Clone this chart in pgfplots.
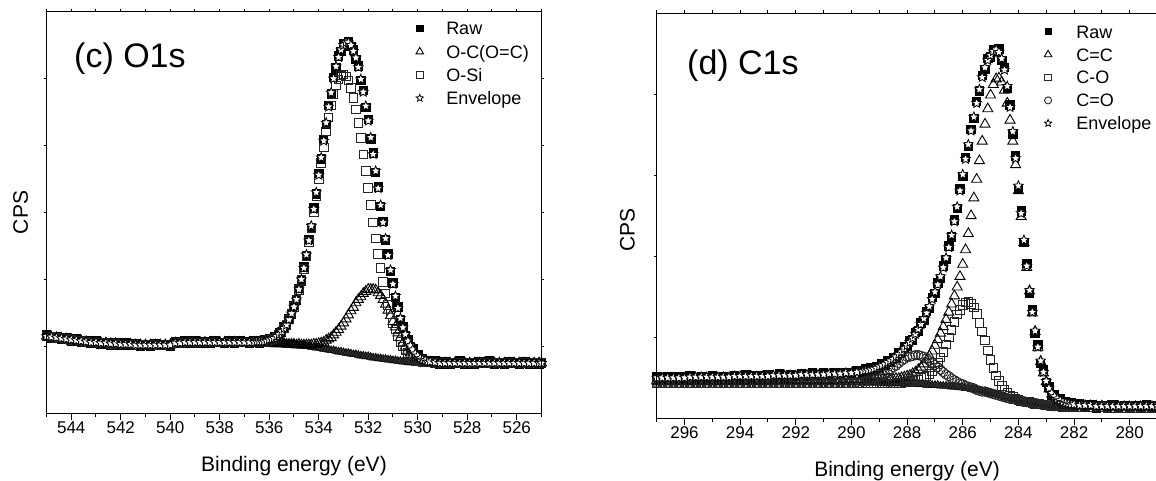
\documentclass[border=0pt]{standalone}
\usepackage{fontspec}
\setmainfont{Liberation Sans}
\usepackage{pgfplots}
\usepackage{pgfplotstable}
\pgfplotsset{compat=1.18}

% open five-pointed star
\pgfdeclareplotmark{ostar}{%
  \pgfpathmoveto{\pgfpointpolar{90}{1.1\pgfplotmarksize}}%
  \pgfpathlineto{\pgfpointpolar{126}{0.5\pgfplotmarksize}}%
  \pgfpathlineto{\pgfpointpolar{162}{1.1\pgfplotmarksize}}%
  \pgfpathlineto{\pgfpointpolar{198}{0.5\pgfplotmarksize}}%
  \pgfpathlineto{\pgfpointpolar{234}{1.1\pgfplotmarksize}}%
  \pgfpathlineto{\pgfpointpolar{270}{0.5\pgfplotmarksize}}%
  \pgfpathlineto{\pgfpointpolar{306}{1.1\pgfplotmarksize}}%
  \pgfpathlineto{\pgfpointpolar{342}{0.5\pgfplotmarksize}}%
  \pgfpathlineto{\pgfpointpolar{18}{1.1\pgfplotmarksize}}%
  \pgfpathlineto{\pgfpointpolar{54}{0.5\pgfplotmarksize}}%
  \pgfpathclose
  \pgfusepathqfillstroke}

% O1s: binding energy, raw, O-C(O=C), O-Si, envelope, background
\pgfplotstableread{
x raw oc osi env bg
545.0 1.17 1.15 1.15 1.15 1.15
544.8 1.12 1.14 1.14 1.14 1.14
544.6 1.15 1.13 1.13 1.13 1.13
544.4 1.10 1.12 1.12 1.12 1.12
544.2 1.13 1.11 1.11 1.11 1.11
544.0 1.08 1.10 1.10 1.10 1.10
543.8 1.11 1.09 1.09 1.09 1.09
543.6 1.06 1.08 1.08 1.08 1.08
543.4 1.09 1.07 1.07 1.07 1.07
543.2 1.05 1.06 1.06 1.06 1.06
543.0 1.08 1.06 1.06 1.06 1.06
542.8 1.03 1.05 1.05 1.05 1.05
542.6 1.06 1.05 1.05 1.05 1.05
542.4 1.02 1.04 1.04 1.04 1.04
542.2 1.06 1.04 1.04 1.04 1.04
542.0 1.01 1.03 1.03 1.03 1.03
541.8 1.05 1.03 1.03 1.03 1.03
541.6 1.01 1.03 1.03 1.03 1.03
541.4 1.04 1.02 1.02 1.02 1.02
541.2 1.00 1.02 1.02 1.02 1.02
541.0 1.03 1.02 1.02 1.02 1.02
540.8 1.00 1.02 1.02 1.02 1.02
540.6 1.04 1.02 1.02 1.02 1.02
540.4 1.01 1.02 1.02 1.02 1.02
540.2 1.03 1.02 1.02 1.02 1.02
540.0 1.00 1.02 1.02 1.02 1.02
539.8 1.07 1.05 1.05 1.05 1.05
539.6 1.04 1.05 1.05 1.05 1.05
539.4 1.08 1.06 1.06 1.06 1.06
539.2 1.05 1.06 1.06 1.06 1.06
539.0 1.08 1.06 1.06 1.06 1.06
538.8 1.04 1.06 1.06 1.06 1.06
538.6 1.07 1.06 1.06 1.06 1.06
538.4 1.05 1.06 1.06 1.06 1.06
538.2 1.08 1.06 1.06 1.06 1.06
538.0 1.06 1.06 1.06 1.06 1.06
537.8 1.04 1.06 1.06 1.06 1.06
537.6 1.08 1.06 1.06 1.06 1.06
537.4 1.05 1.06 1.06 1.06 1.06
537.2 1.08 1.06 1.06 1.06 1.06
537.0 1.07 1.06 1.06 1.06 1.06
536.8 1.05 1.06 1.06 1.06 1.06
536.6 1.08 1.06 1.06 1.06 1.06
536.5 1.09 1.06 1.07 1.07 1.06
536.4 1.05 1.06 1.07 1.07 1.06
536.3 1.08 1.05 1.07 1.07 1.05
536.2 1.10 1.05 1.07 1.07 1.05
536.1 1.07 1.05 1.08 1.08 1.05
536.0 1.12 1.05 1.10 1.10 1.05
535.9 1.10 1.05 1.11 1.11 1.05
535.8 1.15 1.04 1.12 1.12 1.04
535.7 1.14 1.04 1.15 1.15 1.04
535.6 1.20 1.04 1.18 1.18 1.04
535.5 1.21 1.04 1.22 1.22 1.04
535.4 1.29 1.04 1.27 1.27 1.04
535.3 1.31 1.03 1.32 1.32 1.03
535.2 1.42 1.03 1.40 1.40 1.03
535.1 1.48 1.03 1.49 1.49 1.03
535.0 1.61 1.03 1.59 1.59 1.03
534.9 1.69 1.02 1.70 1.70 1.02
534.8 1.87 1.03 1.84 1.85 1.02
534.7 1.98 1.02 1.99 2.00 1.01
534.6 2.19 1.02 2.16 2.17 1.01
534.5 2.36 1.02 2.35 2.37 1.00
534.4 2.60 1.02 2.56 2.58 1.00
534.3 2.78 1.02 2.77 2.80 0.99
534.2 3.07 1.03 3.01 3.05 0.99
534.1 3.28 1.03 3.25 3.30 0.98
534.0 3.58 1.04 3.50 3.56 0.98
533.9 3.80 1.05 3.74 3.82 0.97
533.8 4.09 1.06 3.97 4.07 0.96
533.7 4.32 1.09 4.21 4.34 0.96
533.6 4.60 1.11 4.42 4.58 0.95
533.5 4.77 1.13 4.60 4.79 0.94
533.4 5.02 1.17 4.77 5.00 0.94
533.3 5.16 1.21 4.90 5.18 0.93
533.2 5.34 1.25 4.99 5.32 0.92
533.1 5.41 1.30 5.05 5.43 0.92
533.0 5.52 1.35 5.06 5.50 0.91
532.9 5.53 1.41 5.03 5.54 0.90
532.8 5.56 1.47 4.97 5.54 0.90
532.7 5.48 1.53 4.86 5.50 0.89
532.6 5.43 1.58 4.71 5.41 0.88
532.5 5.29 1.65 4.54 5.31 0.88
532.4 5.19 1.70 4.34 5.17 0.87
532.3 4.97 1.74 4.11 4.99 0.86
532.2 4.82 1.79 3.87 4.80 0.86
532.1 4.57 1.82 3.62 4.59 0.85
532.0 4.39 1.85 3.37 4.37 0.85
531.9 4.10 1.85 3.11 4.12 0.84
531.8 3.89 1.85 2.85 3.87 0.83
531.7 3.60 1.84 2.61 3.62 0.83
531.6 3.38 1.80 2.38 3.36 0.82
531.5 3.09 1.76 2.17 3.11 0.82
531.4 2.87 1.70 1.96 2.85 0.81
531.3 2.59 1.63 1.79 2.61 0.81
531.2 2.38 1.54 1.62 2.36 0.80
531.1 2.12 1.46 1.48 2.14 0.80
531.0 1.95 1.37 1.35 1.93 0.79
530.9 1.73 1.29 1.25 1.75 0.79
530.8 1.59 1.20 1.15 1.57 0.78
530.7 1.40 1.13 1.07 1.42 0.78
530.6 1.30 1.05 1.00 1.28 0.77
530.5 1.16 1.00 0.95 1.18 0.77
530.4 1.10 0.94 0.90 1.08 0.76
530.3 0.99 0.90 0.87 1.01 0.76
530.2 0.97 0.87 0.84 0.95 0.76
530.1 0.87 0.83 0.81 0.89 0.75
530.0 0.88 0.81 0.80 0.86 0.75
529.9 0.80 0.79 0.78 0.82 0.75
529.8 0.82 0.78 0.77 0.80 0.75
529.7 0.78 0.77 0.77 0.79 0.75
529.6 0.79 0.76 0.76 0.77 0.75
529.5 0.76 0.76 0.76 0.77 0.75
529.3 0.78 0.75 0.75 0.76 0.75
529.1 0.74 0.75 0.75 0.75 0.75
528.9 0.77 0.75 0.75 0.75 0.75
528.7 0.73 0.75 0.75 0.75 0.75
528.5 0.76 0.75 0.75 0.75 0.75
528.3 0.78 0.75 0.75 0.75 0.75
528.1 0.74 0.75 0.75 0.75 0.75
527.9 0.76 0.75 0.75 0.75 0.75
527.7 0.73 0.75 0.75 0.75 0.75
527.5 0.77 0.75 0.75 0.75 0.75
527.3 0.75 0.75 0.75 0.75 0.75
527.1 0.78 0.75 0.75 0.75 0.75
526.9 0.74 0.75 0.75 0.75 0.75
526.7 0.76 0.75 0.75 0.75 0.75
526.5 0.73 0.75 0.75 0.75 0.75
526.3 0.77 0.75 0.75 0.75 0.75
526.1 0.75 0.75 0.75 0.75 0.75
525.9 0.74 0.75 0.75 0.75 0.75
525.7 0.77 0.75 0.75 0.75 0.75
525.5 0.73 0.75 0.75 0.75 0.75
525.3 0.76 0.75 0.75 0.75 0.75
525.1 0.74 0.75 0.75 0.75 0.75
525.0 0.75 0.75 0.75 0.75 0.75
}\tabc

% C1s: binding energy, raw, C=C, C-O, C=O, envelope, background
\pgfplotstableread{
x raw cc co cdo env bg
297.0 .52 .46 .44 .44 .50 .44
296.8 .48 .46 .44 .44 .50 .44
296.6 .51 .46 .44 .44 .50 .44
296.4 .49 .46 .44 .44 .50 .44
296.2 .52 .46 .44 .44 .50 .44
296.0 .48 .46 .44 .44 .50 .44
295.8 .53 .46 .44 .44 .51 .44
295.6 .49 .46 .44 .44 .51 .44
295.4 .52 .46 .44 .44 .51 .44
295.2 .50 .46 .44 .44 .51 .44
295.0 .53 .46 .44 .44 .51 .44
294.8 .49 .46 .44 .44 .51 .44
294.6 .52 .46 .44 .44 .51 .44
294.4 .50 .46 .44 .44 .51 .44
294.2 .53 .46 .44 .44 .52 .44
294.0 .50 .46 .44 .44 .52 .44
293.8 .54 .46 .44 .44 .52 .44
293.6 .50 .46 .44 .44 .52 .44
293.4 .53 .46 .44 .44 .52 .44
293.2 .51 .46 .44 .44 .52 .44
293.0 .54 .46 .44 .44 .52 .44
292.8 .51 .47 .44 .44 .53 .44
292.6 .55 .47 .44 .44 .53 .44
292.4 .51 .47 .44 .44 .53 .44
292.2 .54 .47 .44 .44 .53 .44
292.0 .52 .47 .44 .44 .53 .44
291.8 .55 .47 .44 .44 .54 .44
291.6 .52 .47 .44 .44 .54 .44
291.4 .56 .47 .44 .44 .54 .44
291.2 .53 .47 .44 .44 .54 .44
291.0 .56 .47 .44 .44 .54 .44
290.8 .53 .47 .44 .44 .55 .44
290.6 .57 .47 .44 .44 .55 .44
290.4 .54 .48 .44 .44 .55 .44
290.2 .57 .48 .44 .44 .56 .44
290.0 .55 .48 .44 .44 .56 .44
289.8 .59 .48 .44 .45 .57 .44
289.6 .56 .48 .44 .45 .58 .44
289.5 .61 .48 .44 .46 .59 .44
289.4 .57 .48 .44 .47 .59 .44
289.3 .62 .48 .44 .48 .60 .44
289.2 .60 .48 .44 .49 .61 .44
289.1 .64 .48 .44 .50 .62 .44
289.0 .62 .48 .44 .52 .64 .44
288.9 .67 .48 .44 .54 .65 .44
288.8 .65 .48 .43 .55 .67 .43
288.7 .71 .48 .43 .57 .69 .43
288.6 .69 .48 .43 .60 .71 .43
288.5 .75 .48 .43 .63 .73 .43
288.4 .74 .49 .43 .65 .76 .43
288.3 .81 .49 .44 .68 .79 .43
288.2 .80 .50 .44 .71 .82 .43
288.1 .88 .51 .45 .73 .86 .43
288.0 .89 .52 .45 .76 .90 .43
287.9 .96 .53 .45 .76 .94 .42
287.8 .97 .55 .46 .77 .99 .42
287.7 1.06 .57 .47 .78 1.04 .42
287.6 1.08 .60 .48 .78 1.10 .42
287.5 1.18 .63 .50 .77 1.16 .42
287.4 1.21 .67 .51 .76 1.23 .42
287.3 1.32 .72 .52 .74 1.30 .41
287.2 1.36 .77 .55 .71 1.38 .41
287.1 1.49 .83 .58 .69 1.47 .41
287.0 1.54 .90 .63 .66 1.56 .41
286.9 1.67 .97 .69 .63 1.65 .41
286.8 1.73 1.05 .75 .60 1.75 .40
286.7 1.88 1.13 .82 .57 1.86 .40
286.6 1.96 1.22 .91 .54 1.98 .40
286.5 2.13 1.31 1.00 .52 2.11 .40
286.4 2.24 1.41 1.09 .49 2.26 .39
286.3 2.45 1.51 1.19 .47 2.43 .39
286.2 2.59 1.62 1.28 .45 2.61 .39
286.1 2.83 1.75 1.34 .43 2.81 .38
286.0 2.99 1.90 1.40 .42 3.01 .38
285.9 3.22 2.08 1.43 .40 3.20 .37
285.8 3.36 2.28 1.44 .39 3.38 .37
285.7 3.57 2.50 1.41 .38 3.55 .36
285.6 3.70 2.72 1.37 .37 3.72 .36
285.5 3.91 2.95 1.29 .35 3.89 .35
285.4 4.04 3.18 1.18 .34 4.06 .34
285.3 4.23 3.42 1.07 .33 4.21 .33
285.2 4.31 3.63 .96 .33 4.33 .33
285.1 4.44 3.82 .84 .32 4.42 .32
285.0 4.46 3.99 .72 .31 4.48 .31
284.9 4.55 4.12 .62 .30 4.53 .30
284.8 4.53 4.19 .53 .29 4.55 .29
284.7 4.56 4.20 .46 .28 4.52 .28
284.6 4.42 4.15 .40 .27 4.44 .27
284.5 4.33 4.05 .35 .26 4.30 .26
284.4 4.07 3.89 .31 .25 4.10 .25
284.3 3.87 3.68 .28 .24 3.84 .24
284.2 3.51 3.42 .26 .24 3.54 .24
284.1 3.24 3.13 .24 .23 3.21 .23
284.0 2.84 2.81 .23 .22 2.87 .22
283.9 2.56 2.49 .21 .21 2.53 .21
283.8 2.17 2.17 .21 .21 2.20 .21
283.7 1.91 1.86 .20 .20 1.88 .20
283.6 1.55 1.57 .20 .20 1.58 .20
283.5 1.34 1.30 .19 .19 1.31 .19
283.4 1.05 1.07 .18 .18 1.08 .18
283.3 .91 .87 .18 .18 .88 .18
283.2 .68 .70 .17 .17 .71 .17
283.1 .60 .56 .17 .17 .57 .17
283.0 .44 .45 .16 .16 .46 .16
282.9 .39 .36 .16 .16 .37 .16
282.8 .29 .30 .15 .15 .31 .15
282.7 .29 .26 .15 .15 .27 .15
282.6 .22 .23 .15 .15 .24 .15
282.5 .24 .21 .15 .15 .22 .15
282.4 .18 .19 .14 .14 .20 .14
282.3 .21 .18 .14 .14 .19 .14
282.2 .17 .17 .14 .14 .18 .14
282.1 .19 .16 .14 .14 .17 .14
282.0 .15 .16 .14 .14 .17 .14
281.8 .18 .15 .14 .14 .16 .14
281.6 .14 .15 .14 .14 .16 .14
281.4 .17 .15 .14 .14 .16 .14
281.2 .13 .15 .14 .14 .15 .14
281.0 .16 .15 .14 .14 .15 .14
280.8 .13 .14 .13 .13 .15 .13
280.6 .17 .14 .13 .13 .15 .13
280.4 .14 .14 .13 .13 .15 .13
280.2 .16 .14 .13 .13 .15 .13
280.0 .13 .14 .13 .13 .15 .13
279.8 .16 .14 .13 .13 .15 .13
279.6 .14 .14 .13 .13 .15 .13
279.4 .17 .14 .13 .13 .15 .13
279.2 .13 .14 .13 .13 .15 .13
279.0 .16 .14 .13 .13 .15 .13
}\tabd

\pgfplotsset{
  xps/.style={
    scale only axis, x dir=reverse,
    xlabel={Binding energy (eV)}, ylabel={CPS},
    tick align=outside, xtick pos=left, ytick=\empty,
    major tick length=6.5pt, minor tick length=3.3pt,
    axis line style={line width=1pt}, tick style={line width=1pt, black},
    /pgf/number format/assume math mode=true,
    tick label style={font=\fontsize{17}{17}\selectfont},
    xticklabel shift=-1.5pt,
    label style={font=\fontsize{21}{21}\selectfont},
    xlabel style={at={(axis description cs:0.5,0)}, anchor=base, yshift=-58.4pt},
    legend style={draw=none, fill=none, inner sep=0pt, outer sep=0pt,
      anchor=north west, font=\fontsize{18}{18}\selectfont,
      nodes={inner sep=0pt, text height=12.9pt, text depth=0pt}},
    legend cell align=left,
    legend image code/.code={\draw[##1,/tikz/every mark/.append style={scale=0.75}] plot coordinates {(0pt,0pt)};},
  },
  frame/.style={
    scale only axis, x dir=reverse, tick align=outside,
    xtick pos=right, xticklabels={}, ytick pos=both, yticklabels={},
    major tick length=2.8pt,
    axis line style={line width=1pt}, tick style={line width=1pt, black},
  },
  bgp/.style={only marks, mark=triangle*, mark size=4.6pt, black, line width=0.6pt, mark options={fill=black!80}, forget plot},
  rawp/.style={only marks, mark=square*, mark size=4.2pt, black, line width=0.8pt},
  trip/.style={only marks, mark=triangle, mark size=5.8pt, black, line width=0.9pt},
  sqp/.style={only marks, mark=square, mark size=4.3pt, black!85, line width=0.9pt},
  cirp/.style={only marks, mark=o, mark size=4.7pt, black!85, line width=0.9pt},
  envp/.style={only marks, mark=ostar, mark size=4.6pt, black, line width=0.8pt, mark options={fill=white}},
}

\begin{document}
\begin{tikzpicture}
% ---- (c) O1s ----
\begin{axis}[xps,
  at={(46.5pt,67.7pt)}, anchor=south west, width=495pt, height=401.6pt,
  xmin=525, xmax=545, ymin=0, ymax=6,
  xtick={526,528,...,544}, minor xtick={525,527,...,545},
  ylabel style={at={(axis description cs:-0.052,0.5)}, anchor=center},
  legend style={at={(axis description cs:0.7465,0.9742)}, row sep=10.3pt, column sep=22.7pt},
]
\addplot[bgp] table[x=x, y=bg] {\tabc};
\addplot[rawp] table[x=x, y=raw] {\tabc};
\addlegendentry{Raw}
\addplot[trip] table[x=x, y=oc] {\tabc};
\addlegendentry{O-C(O=C)}
\addplot[sqp] table[x=x, y=osi] {\tabc};
\addlegendentry{O-Si}
\addplot[envp] table[x=x, y=env] {\tabc};
\addlegendentry{Envelope}
\end{axis}
\begin{axis}[frame,
  at={(46.5pt,67.7pt)}, anchor=south west, width=495pt, height=401.6pt,
  xmin=525, xmax=545, ymin=0, ymax=6,
  xtick={525,526,...,545}, ytick={1,2,3,4,5}]
\end{axis}
\node[anchor=base west, inner sep=0pt, font=\fontsize{34}{34}\selectfont] at (74pt,413pt) {(c) O1s};

% ---- (d) C1s ----
\begin{axis}[xps,
  at={(656.7pt,62.7pt)}, anchor=south west, width=500.8pt, height=405pt,
  xmin=279, xmax=297, ymin=0, ymax=5,
  xtick={280,282,...,296}, minor xtick={279,281,...,297},
  ylabel style={at={(axis description cs:-0.0585,0.465)}, anchor=center},
  legend style={at={(axis description cs:0.774,0.9705)}, row sep=10pt, column sep=24.4pt},
]
\addplot[bgp] table[x=x, y=bg] {\tabd};
\addplot[rawp] table[x=x, y=raw] {\tabd};
\addlegendentry{Raw}
\addplot[trip] table[x=x, y=cc] {\tabd};
\addlegendentry{C=C}
\addplot[sqp] table[x=x, y=co] {\tabd};
\addlegendentry{C-O}
\addplot[cirp] table[x=x, y=cdo] {\tabd};
\addlegendentry{C=O}
\addplot[envp] table[x=x, y=env] {\tabd};
\addlegendentry{Envelope}
\end{axis}
\begin{axis}[frame,
  at={(656.7pt,62.7pt)}, anchor=south west, width=500.8pt, height=405pt,
  xmin=279, xmax=297, ymin=0, ymax=5,
  xtick={279,280,...,297}, ytick={1,2,3,4}]
\end{axis}
\node[anchor=base west, inner sep=0pt, font=\fontsize{34}{34}\selectfont] at (687pt,406pt) {(d) C1s};

\pgfresetboundingbox
\path[use as bounding box] (0,0) rectangle (1156pt,481pt);
\end{tikzpicture}
\end{document}
